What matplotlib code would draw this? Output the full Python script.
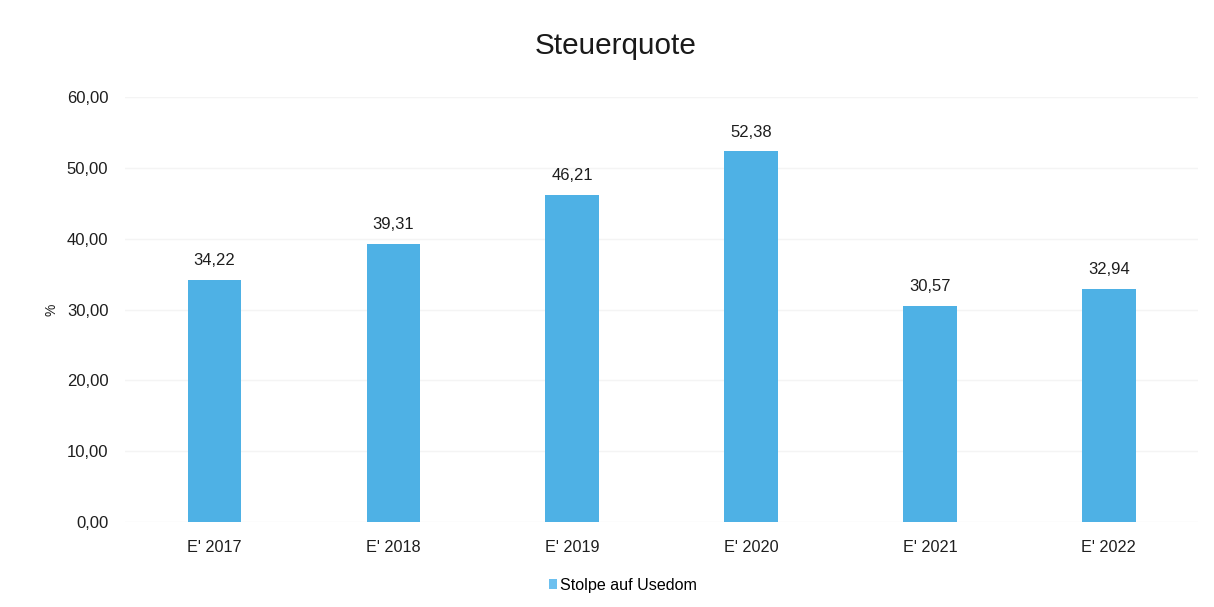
import matplotlib
matplotlib.use("Agg")
import matplotlib.pyplot as plt
from matplotlib.patches import Patch

plt.rcParams['font.family'] = ['Liberation Sans', 'DejaVu Sans']

categories = ["E' 2017", "E' 2018", "E' 2019", "E' 2020", "E' 2021", "E' 2022"]
values = [34.22, 39.31, 46.21, 52.38, 30.57, 32.94]
value_labels = ["34,22", "39,31", "46,21", "52,38", "30,57", "32,94"]
yticks = [0, 10, 20, 30, 40, 50, 60]
ytick_labels = ["0,00", "10,00", "20,00", "30,00", "40,00", "50,00", "60,00"]
series_name = "Stolpe auf Usedom"
title = "Steuerquote"

color = "#4eb1e5"

fig = plt.figure(figsize=(12.14, 6.07), dpi=100)
ax = fig.add_axes([0.103, 0.140, 0.884, 0.700])

x = list(range(len(categories)))
ax.bar(x, values, width=0.3, color=color, zorder=3)
for xi, v, lab in zip(x, values, value_labels):
    ax.text(xi, v + 1.6, lab, ha='center', va='bottom', fontsize=12, color='#1e1e1e')

ax.set_xlim(-0.5, len(categories) - 0.5)
ax.set_ylim(0, 60)
ax.set_yticks(yticks)
ax.set_yticklabels(ytick_labels, fontsize=12, color='#1e1e1e')
ax.set_xticks(x)
ax.set_xticklabels(categories, fontsize=11.7, color='#1e1e1e')
ax.tick_params(axis='both', length=0)
ax.tick_params(axis='y', pad=12)
ax.tick_params(axis='x', pad=13)
ax.yaxis.grid(True, color='#f4f4f4', linewidth=1, zorder=0)
for s in ax.spines.values():
    s.set_visible(False)

ax.set_ylabel('%', fontsize=10, color='#1e1e1e', labelpad=6)

fig.text(0.507, 0.924, title, ha='center', va='center', fontsize=21.4, color='#1a1a1a')

handles = [Patch(facecolor='#6cc0ef', edgecolor='none', label=series_name)]
fig.legend(handles=handles, loc='center', bbox_to_anchor=(0.513, 0.036), frameon=False,
           fontsize=11.6, handlelength=0.5, handleheight=0.5, handletextpad=0.2)

fig.savefig("out.png", dpi=100, facecolor='white')
